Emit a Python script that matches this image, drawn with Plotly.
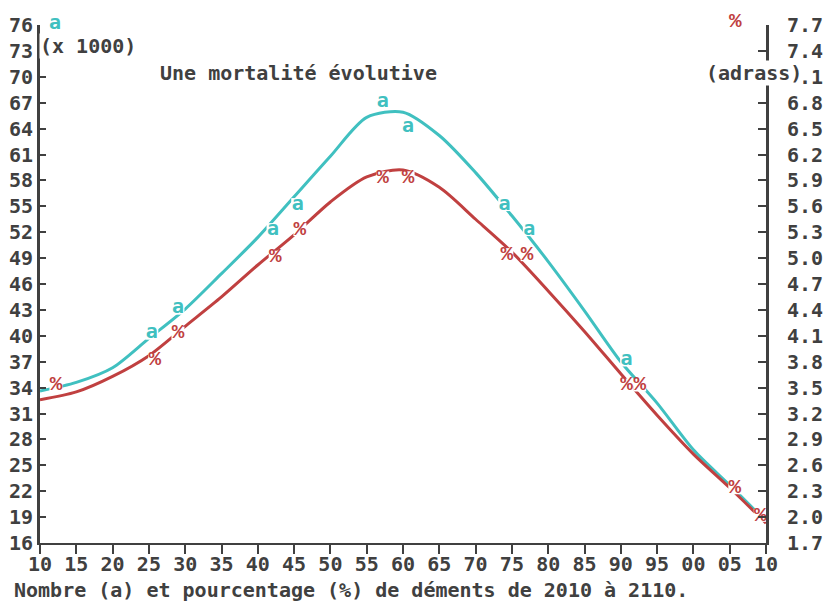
import plotly.graph_objects as go

# ---- data ----
years = [2010, 2015, 2020, 2025, 2030, 2035, 2040, 2045, 2050, 2055, 2060,
         2065, 2070, 2075, 2080, 2085, 2090, 2095, 2100, 2105, 2110]
nombre = [33.6, 34.6, 36.3, 39.7, 43.1, 47.2, 51.4, 56.1, 60.8, 65.3, 65.9,
          63.2, 58.9, 53.9, 48.6, 42.9, 37.0, 32.2, 26.8, 22.7, 18.5]
pourcentage = [3.36, 3.45, 3.63, 3.87, 4.21, 4.55, 4.92, 5.27, 5.65, 5.94, 6.02,
               5.82, 5.45, 5.07, 4.62, 4.15, 3.66, 3.18, 2.73, 2.34, 1.93]

a_mark_years = [2025.4, 2029.0, 2042.1, 2045.5, 2057.2, 2060.7, 2074.0, 2077.4, 2090.8]
a_mark_vals = [40.3, 43.2, 52.3, 55.2, 67.1, 64.2, 55.2, 52.3, 37.2]
p_mark_years = [2012.2, 2025.8, 2029.0, 2042.4, 2045.8, 2057.2, 2060.7, 2074.3,
                2077.1, 2090.8, 2092.6, 2105.7, 2109.2]
p_mark_vals = [3.53, 3.82, 4.13, 5.01, 5.33, 5.93, 5.93, 5.04, 5.04, 3.53, 3.53, 2.34, 2.02]

x_tickvals = list(range(2010, 2111, 5))
x_ticktext = ["10", "15", "20", "25", "30", "35", "40", "45", "50", "55", "60",
              "65", "70", "75", "80", "85", "90", "95", "00", "05", "10"]
left_ticks = list(range(16, 77, 3))
right_ticks = [round(1.7 + 0.3 * i, 1) for i in range(21)]

title_text = "Une mortalité évolutive"
caption_text = "Nombre (a) et pourcentage (%) de déments de 2010 à 2110."
left_unit = "(x 1000)"
right_unit = "(adrass)"

# ---- style ----
INK = "#404040"
CYAN = "#40C0C0"
RED = "#C04040"
FONT = "DejaVu Sans Mono"
fnt = dict(family=FONT, size=20, color=INK, weight="bold")
pct_font = dict(family="Liberation Mono", size=21, color=RED, weight="bold")
a_font = dict(family=FONT, size=20, color=CYAN, weight="bold")

fig = go.Figure()
fig.add_trace(go.Scatter(x=years, y=nombre, mode="lines",
                         line=dict(color=CYAN, width=3, shape="spline", smoothing=0.8),
                         yaxis="y", showlegend=False))
fig.add_trace(go.Scatter(x=years, y=pourcentage, mode="lines",
                         line=dict(color=RED, width=3, shape="spline", smoothing=0.8),
                         yaxis="y2", showlegend=False))
fig.add_trace(go.Scatter(x=a_mark_years, y=a_mark_vals, mode="markers+text",
                         text=["a"] * len(a_mark_years), textposition="middle center",
                         marker=dict(symbol="square", size=13, color="white"),
                         textfont=a_font, yaxis="y", showlegend=False))
fig.add_trace(go.Scatter(x=p_mark_years, y=p_mark_vals, mode="markers+text",
                         text=["%"] * len(p_mark_years), textposition="middle center",
                         marker=dict(symbol="square", size=13, color="white"),
                         textfont=pct_font, yaxis="y2", showlegend=False))

fig.update_layout(
    width=830, height=602,
    margin=dict(l=40, r=64, t=25, b=59),
    paper_bgcolor="white", plot_bgcolor="white",
    font=fnt,
    xaxis=dict(range=[2010, 2110], tickvals=x_tickvals, ticktext=x_ticktext,
               showgrid=False, zeroline=False, showline=True, linecolor=INK, linewidth=2,
               ticks="outside", ticklen=9, tickwidth=2, tickcolor=INK,
               tickfont=fnt, automargin=False, ticklabelstandoff=-7),
    yaxis=dict(range=[16, 76], tickvals=left_ticks, ticktext=[str(v) for v in left_ticks],
               showgrid=False, zeroline=False, showline=True, linecolor=INK, linewidth=3,
               ticks="inside", ticklen=6, tickwidth=2, tickcolor=INK,
               tickfont=fnt, ticklabelstandoff=0, automargin=False),
    yaxis2=dict(range=[1.7, 7.7], tickvals=right_ticks, ticktext=[f"{v:.1f}" for v in right_ticks],
                overlaying="y", side="right",
                showgrid=False, zeroline=False, showline=True, linecolor=INK, linewidth=3,
                ticks="inside", ticklen=8, tickwidth=2, tickcolor=INK,
                tickfont=fnt, ticklabelstandoff=14, automargin=False),
)

W, H = 726.0, 518.0
def px(x):
    return (x - 40) / W
def py(y):
    return (543 - y) / H

def note(text, x, y, xanchor, font, bg=None):
    fig.add_annotation(text=text, x=px(x), y=py(y), xref="paper", yref="paper",
                       xanchor=xanchor, yanchor="middle", showarrow=False,
                       bgcolor=bg if bg else "rgba(0,0,0,0)", borderpad=0, font=font)

note("a", 55, 22, "center", a_font)
note("%", 735, 22, "center", pct_font)
note(left_unit, 39, 46, "left", fnt, "white")
note(right_unit, 803, 73, "right", fnt, "white")
note(title_text, 298, 73, "center", fnt)
note(caption_text, 13, 590, "left", fnt)

fig.write_html("out.html")
